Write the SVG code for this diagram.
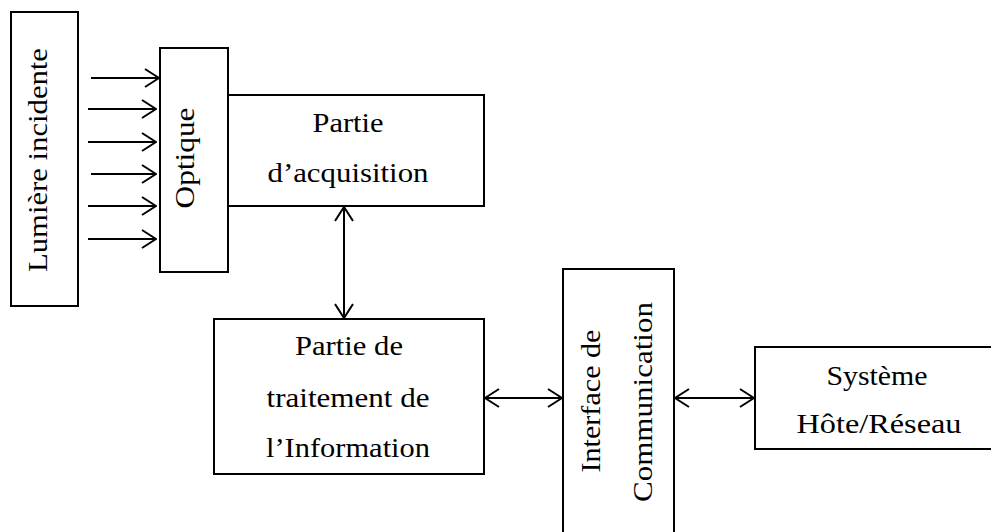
<svg xmlns="http://www.w3.org/2000/svg" width="991" height="532" viewBox="0 0 991 532">
  <style>
    .box { fill: #fff; stroke: #000; stroke-width: 2; }
    .lbl { font-family: "Liberation Serif", "Times New Roman", serif; font-size: 27px; fill: #000; text-anchor: middle; }
    .wire { stroke: #000; stroke-width: 2; fill: none; }
    .one { marker-end: url(#head); }
    .two { marker-start: url(#head); marker-end: url(#head); }
  </style>
  <defs>
    <marker id="head" markerUnits="userSpaceOnUse" viewBox="0 0 16 20" refX="15" refY="10" markerWidth="16" markerHeight="20" orient="auto-start-reverse">
      <path d="M1,1 L15,10 L1,19" fill="none" stroke="#000" stroke-width="2"/>
    </marker>
  </defs>

  <rect width="991" height="532" fill="#fff"/>

  <g id="lumiere">
    <rect class="box" x="11" y="12" width="67" height="294"/>
    <text class="lbl" transform="translate(47,160) rotate(-90)" textLength="224" lengthAdjust="spacingAndGlyphs">Lumière incidente</text>
  </g>

  <g id="optique">
    <rect class="box" x="160" y="48" width="68" height="224"/>
    <text class="lbl" transform="translate(194,158) rotate(-90)" textLength="101" lengthAdjust="spacingAndGlyphs">Optique</text>
  </g>

  <g id="acquisition">
    <rect class="box" x="228" y="95" width="256" height="111"/>
    <text class="lbl" x="348" y="132" textLength="71" lengthAdjust="spacingAndGlyphs">Partie</text>
    <text class="lbl" x="348" y="182" textLength="161" lengthAdjust="spacingAndGlyphs">d’acquisition</text>
  </g>

  <g id="traitement">
    <rect class="box" x="214" y="319" width="270" height="155"/>
    <text class="lbl" x="349" y="355" textLength="108" lengthAdjust="spacingAndGlyphs">Partie de</text>
    <text class="lbl" x="348" y="407" textLength="163" lengthAdjust="spacingAndGlyphs">traitement de</text>
    <text class="lbl" x="348" y="457" textLength="164" lengthAdjust="spacingAndGlyphs">l’Information</text>
  </g>

  <!-- runs past the bottom edge of the canvas -->
  <g id="interface">
    <rect class="box" x="563" y="269" width="111" height="270"/>
    <text class="lbl" transform="translate(600,401) rotate(-90)" textLength="143" lengthAdjust="spacingAndGlyphs">Interface de</text>
    <text class="lbl" transform="translate(652,402) rotate(-90)" textLength="200" lengthAdjust="spacingAndGlyphs">Communication</text>
  </g>

  <!-- runs past the right edge of the canvas -->
  <g id="systeme">
    <rect class="box" x="755" y="347" width="245" height="102"/>
    <text class="lbl" x="877" y="385" textLength="101" lengthAdjust="spacingAndGlyphs">Système</text>
    <text class="lbl" x="879" y="433" textLength="165" lengthAdjust="spacingAndGlyphs">Hôte/Réseau</text>
  </g>

  <g id="connectors">
    <line class="wire one" x1="91" y1="78" x2="159" y2="78"/>
    <line class="wire one" x1="88" y1="109" x2="156" y2="109"/>
    <line class="wire one" x1="88" y1="142" x2="156" y2="142"/>
    <line class="wire one" x1="91" y1="174" x2="156" y2="174"/>
    <line class="wire one" x1="88" y1="206" x2="156" y2="206"/>
    <line class="wire one" x1="88" y1="239" x2="156" y2="239"/>
    <line class="wire two" x1="344" y1="207" x2="344" y2="318"/>
    <line class="wire two" x1="485" y1="398" x2="562" y2="398"/>
    <line class="wire two" x1="675" y1="398" x2="754" y2="398"/>
  </g>
</svg>
